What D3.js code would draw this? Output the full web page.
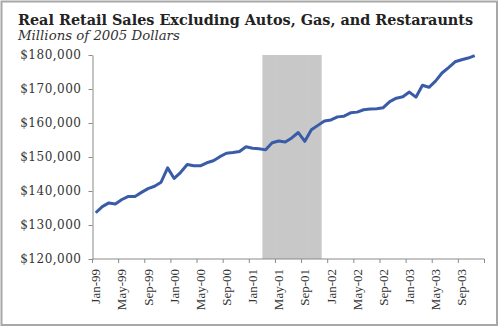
<!DOCTYPE html>
<html>
<head>
<meta charset="utf-8">
<script src="https://cdn.jsdelivr.net/npm/d3@7/dist/d3.min.js"></script>
<style>
  body { margin: 0; background: #fff; }
  svg { display: block; }
</style>
</head>
<body>
<div id="chart"></div>
<script>
// monthly real retail sales ex autos, gas & restaurants, millions of 2005 $
var startMonth = "1999-01";
var monthCount = 60;
var sales = [
  133600, 135400, 136500, 136200, 137500, 138400, 138400, 139600, 140700, 141400, 142600, 146800,
  143700, 145500, 147800, 147400, 147400, 148300, 148900, 150100, 151100, 151300, 151600, 153000,
  152600, 152400, 152100, 154200, 154700, 154400, 155600, 157200, 154600, 158000, 159300, 160600,
  160900, 161800, 162000, 163000, 163200, 163900, 164100, 164200, 164500, 166300, 167300, 167700,
  169100, 167600, 171100, 170500, 172300, 174700, 176300, 178000, 178600, 179100, 179800
];
var recessionMonths = ["Mar-01", "Apr-01", "May-01", "Jun-01", "Jul-01", "Aug-01", "Sep-01", "Oct-01", "Nov-01"];
var xTickLabels = ["Jan-99", "May-99", "Sep-99", "Jan-00", "May-00", "Sep-00", "Jan-01", "May-01",
  "Sep-01", "Jan-02", "May-02", "Sep-02", "Jan-03", "May-03", "Sep-03"];
var yTicks = [120000, 130000, 140000, 150000, 160000, 170000, 180000];
var shadeTop = 180000;

var width = 500, height = 328;
var fmtMonth = d3.timeFormat("%b-%y");
var first = d3.timeParse("%Y-%m")(startMonth);
var months = d3.timeMonth.range(first, d3.timeMonth.offset(first, monthCount)).map(fmtMonth);

var data = sales.map(function (v, i) { return {month: months[i], value: v}; });

var svg = d3.select("#chart").append("svg")
    .attr("width", width)
    .attr("height", height);

// outer frame
svg.append("rect")
    .attr("x", 1.5).attr("y", 1.5)
    .attr("width", 495.5).attr("height", 323.5)
    .attr("fill", "none")
    .attr("stroke", "#a8a8a8")
    .attr("stroke-width", 2);

svg.append("text")
    .attr("x", 18).attr("y", 25)
    .style("font-family", "'DejaVu Serif', serif")
    .style("font-weight", "bold")
    .style("font-size", "14.4px")
    .attr("fill", "#222")
    .text("Real Retail Sales Excluding Autos, Gas, and Restaraunts");

svg.append("text")
    .attr("x", 18).attr("y", 40)
    .style("font-family", "'DejaVu Serif', serif")
    .style("font-style", "italic")
    .style("font-size", "13.3px")
    .attr("fill", "#333")
    .text("Millions of 2005 Dollars");

var x = d3.scaleBand()
    .domain(months)
    .range([92.5, 484.5])
    .padding(0);

var y = d3.scaleLinear()
    .domain([120000, 180000])
    .range([259, 55]);

// recession shading (Mar-01 .. Nov-01)
svg.append("g")
  .selectAll("rect")
  .data(recessionMonths)
  .enter()
  .append("rect")
    .attr("x", function (d) { return x(d); })
    .attr("width", x.bandwidth() + 0.5)
    .attr("y", y(shadeTop))
    .attr("height", y(120000) - y(shadeTop))
    .attr("fill", "#c8c8c8");

// y axis
var yAxis = svg.append("g")
    .attr("transform", "translate(" + x.range()[0] + ",0)")
    .call(d3.axisLeft(y)
      .tickValues(yTicks)
      .tickSize(4)
      .tickSizeOuter(0)
      .tickPadding(7)
      .tickFormat(d3.format("$,")));
yAxis.select(".domain").attr("stroke", "#8a8a8a");
yAxis.selectAll(".tick line").attr("stroke", "#8a8a8a");
yAxis.selectAll("text")
    .style("font-family", "'DejaVu Serif', serif")
    .style("font-size", "12px")
    .style("letter-spacing", "0.5px")
    .attr("fill", "#333");

// x axis: ticks sit between categories, labels on the category centre
var xAxis = svg.append("g");
xAxis.append("line")
    .attr("x1", x.range()[0]).attr("x2", x.range()[1])
    .attr("y1", y(120000)).attr("y2", y(120000))
    .attr("stroke", "#8a8a8a");

var tickIdx = d3.range(0, monthCount + 1, 4);
xAxis.selectAll(".xtick")
  .data(tickIdx)
  .enter()
  .append("line")
    .attr("class", "xtick")
    .attr("x1", function (i) { return x.range()[0] + i * x.bandwidth(); })
    .attr("x2", function (i) { return x.range()[0] + i * x.bandwidth(); })
    .attr("y1", y(120000))
    .attr("y2", y(120000) + 4)
    .attr("stroke", "#8a8a8a");

xAxis.selectAll(".xlabel")
  .data(xTickLabels)
  .enter()
  .append("text")
    .attr("class", "xlabel")
    .attr("transform", function (d) {
      return "translate(" + (x(d) + x.bandwidth() / 2) + "," + (y(120000) + 10) + ") rotate(-90)";
    })
    .attr("dy", "0.35em")
    .attr("text-anchor", "end")
    .style("font-family", "'Liberation Serif', serif")
    .style("font-size", "13px")
    .attr("fill", "#333")
    .text(function (d) { return d; });

// sales line
var line = d3.line()
    .x(function (d) { return x(d.month) + x.bandwidth() / 2; })
    .y(function (d) { return y(d.value); });

svg.append("path")
    .datum(data)
    .attr("d", line)
    .attr("fill", "none")
    .attr("stroke", "#3a5ca8")
    .attr("stroke-width", 3)
    .attr("stroke-linejoin", "round");
</script>
</body>
</html>
